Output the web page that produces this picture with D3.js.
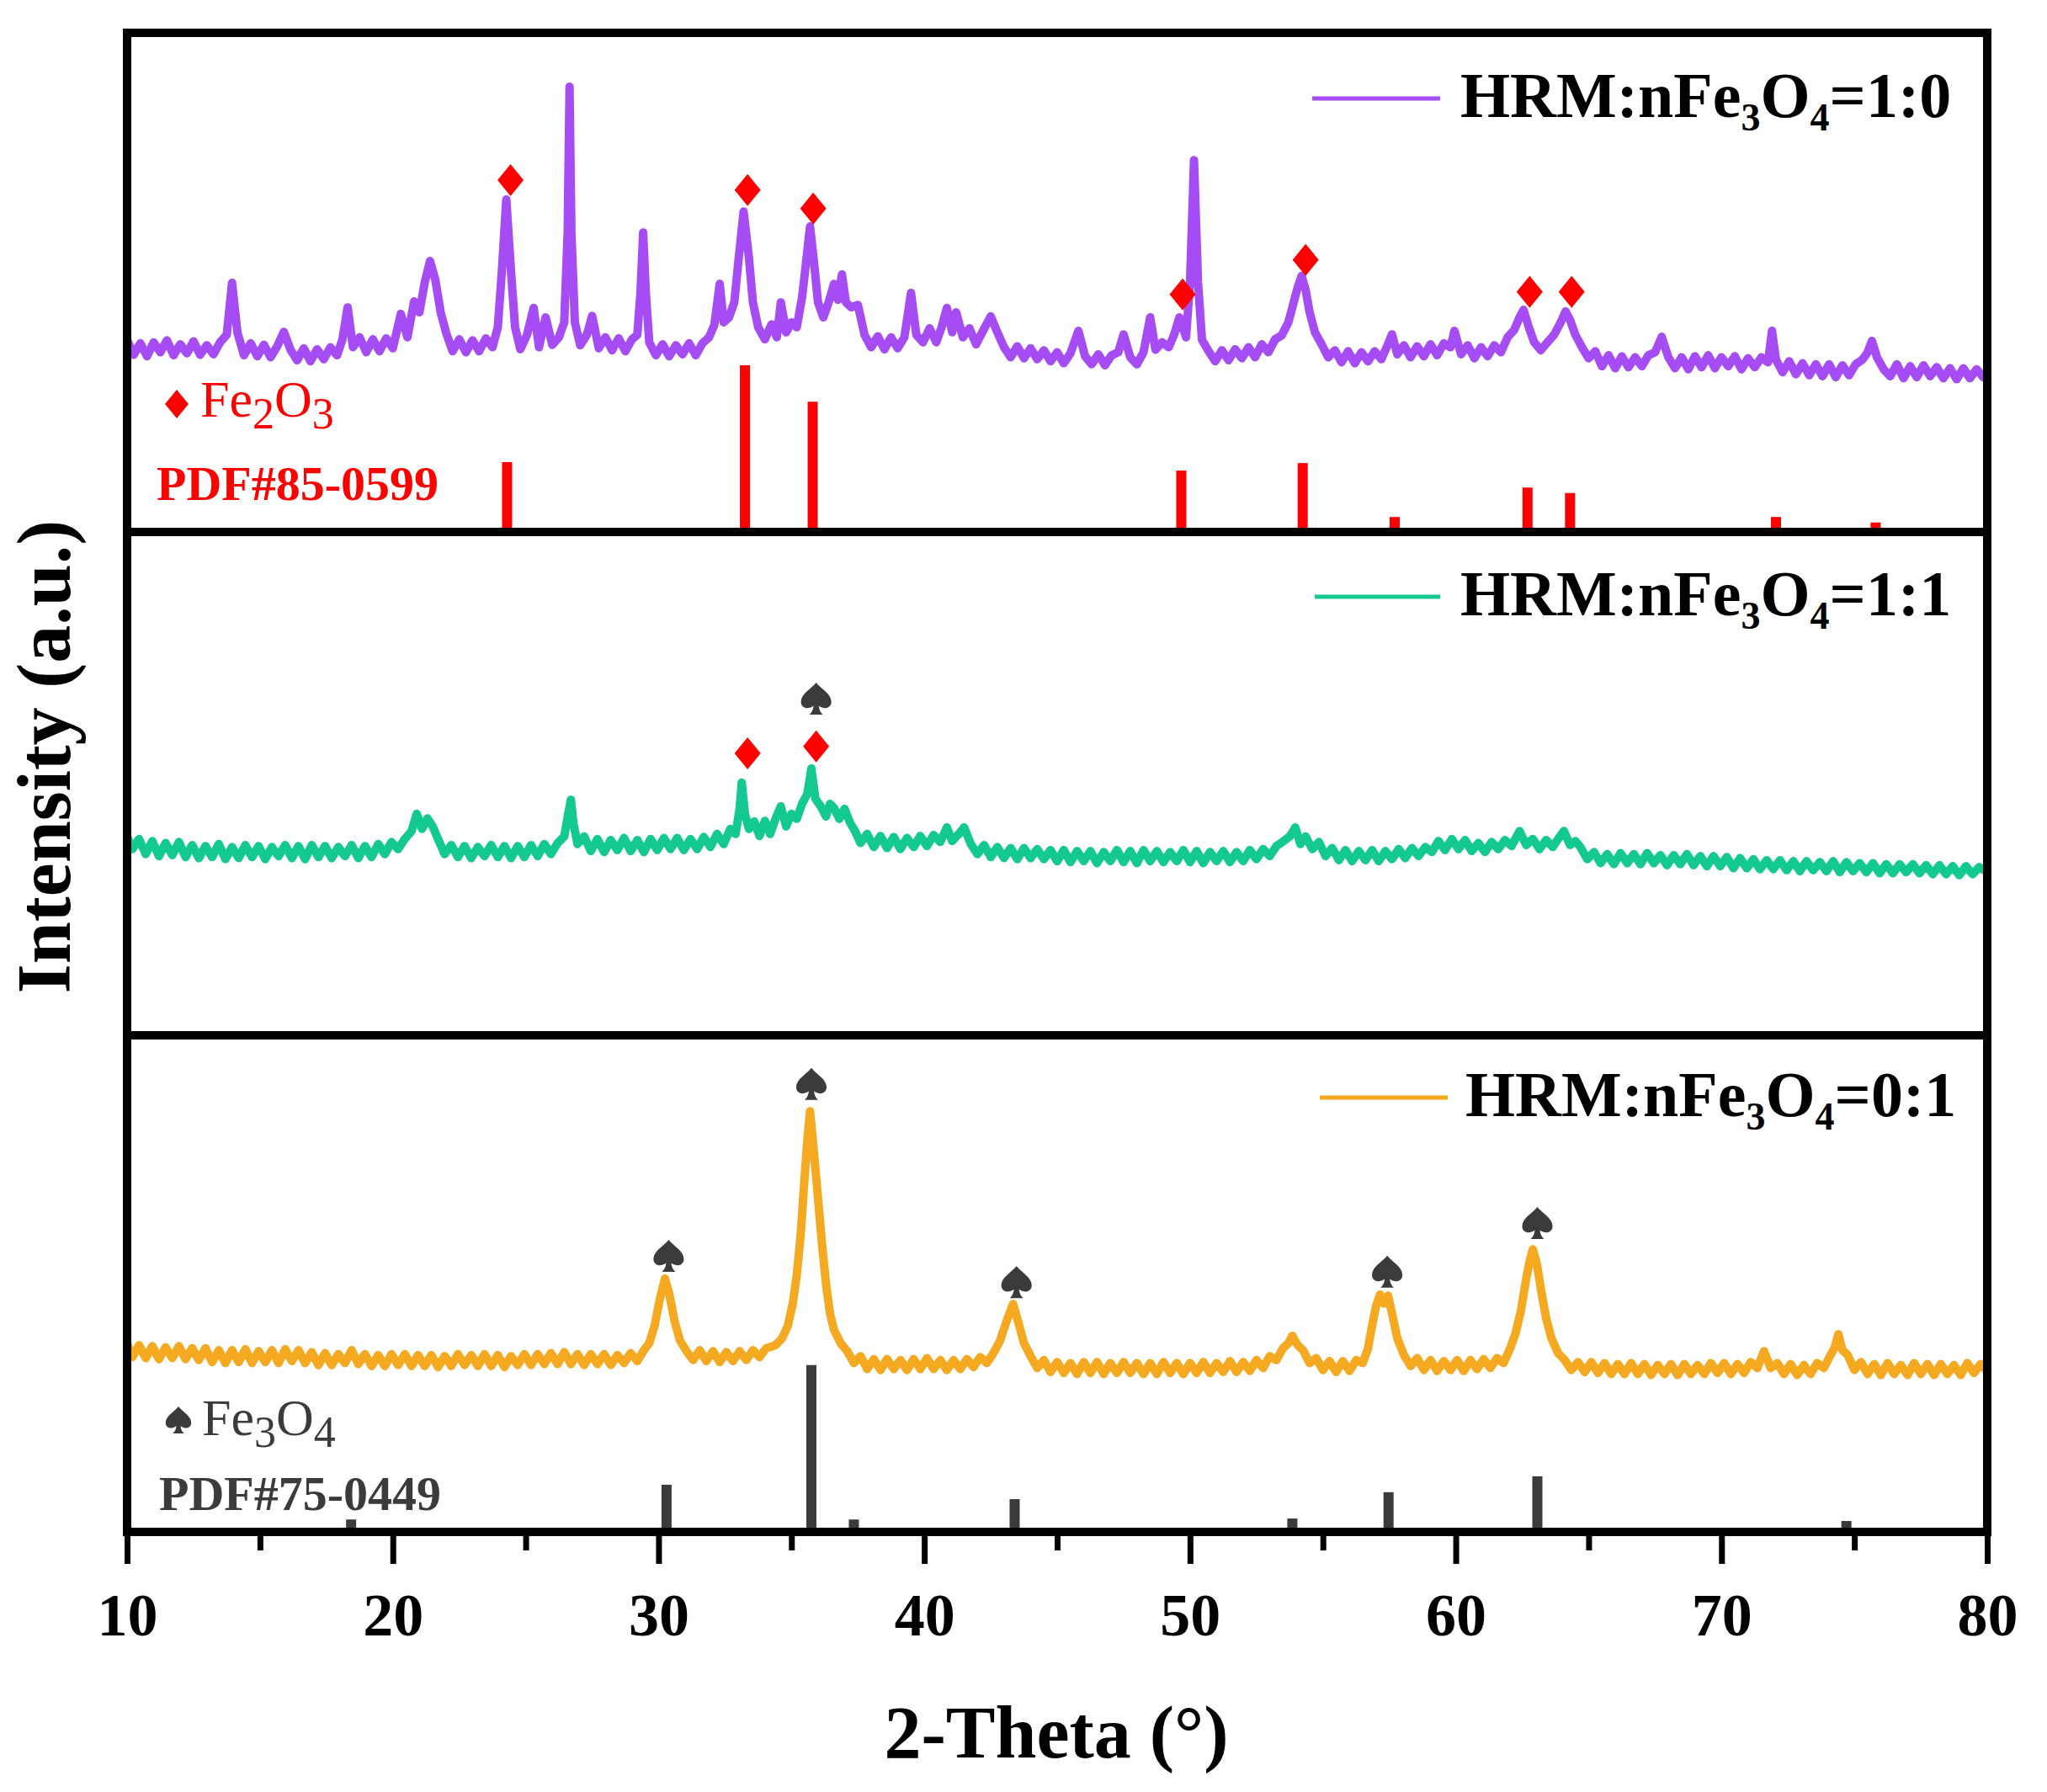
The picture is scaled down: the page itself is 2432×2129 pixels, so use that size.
<!DOCTYPE html>
<html>
<head>
<meta charset="utf-8">
<script src="https://cdn.jsdelivr.net/npm/d3@7"></script>
<style>
  body { margin: 0; background: #fff; }
  text { font-family: "Liberation Serif", "Times New Roman", serif; }
</style>
</head>
<body>
<script>
var width = 2432, height = 2129;

// ---- data (2-Theta, intensity in panel units 0..100) ----
var xTicks = [10, 20, 30, 40, 50, 60, 70, 80];
var xMinorTicks = [15, 25, 35, 45, 55, 65, 75];

// HRM:nFe3O4 = 1:0
var sample10 = [[10.0,38.5],[10.25,35.5],[10.5,37.8],[10.75,35.2],[11.0,38.0],[11.25,36.0],[11.5,38.4],[11.75,35.4],[12.0,37.6],[12.25,35.8],[12.5,38.2],[12.75,35.5],[13.0,37.4],[13.25,35.6],[13.5,38.0],[13.75,39.5],[13.95,49.9],[14.15,40.0],[14.4,35.4],[14.65,37.8],[14.9,35.2],[15.15,37.5],[15.4,35.0],[15.65,37.2],[15.9,40.1],[16.15,36.5],[16.4,34.4],[16.65,36.8],[16.9,34.2],[17.15,36.6],[17.4,34.6],[17.65,37.0],[17.9,35.4],[18.1,38.5],[18.3,45.0],[18.5,37.0],[18.75,39.0],[19.0,36.0],[19.25,38.6],[19.5,36.2],[19.75,38.8],[20.0,36.8],[20.3,43.7],[20.55,39.0],[20.8,46.2],[21.0,44.0],[21.2,50.0],[21.4,54.3],[21.6,50.5],[21.8,44.0],[22.0,40.0],[22.25,36.2],[22.5,38.6],[22.75,36.0],[23.0,38.4],[23.25,36.2],[23.5,38.8],[23.75,37.0],[23.95,41.0],[24.1,52.0],[24.27,66.6],[24.45,52.0],[24.6,41.0],[24.8,36.6],[25.05,39.5],[25.3,44.9],[25.5,37.0],[25.75,43.0],[26.0,37.5],[26.25,39.0],[26.45,42.0],[26.58,60.0],[26.65,89.2],[26.72,60.0],[26.85,42.0],[27.05,37.4],[27.3,39.5],[27.5,43.3],[27.75,36.8],[28.0,39.0],[28.25,36.4],[28.5,38.8],[28.75,36.2],[29.0,38.6],[29.2,39.5],[29.32,48.0],[29.42,60.0],[29.52,48.0],[29.65,38.0],[29.9,35.4],[30.15,37.6],[30.4,35.2],[30.65,37.4],[30.9,35.6],[31.15,37.8],[31.4,35.4],[31.65,37.8],[31.9,39.0],[32.1,41.5],[32.3,49.7],[32.45,42.0],[32.65,43.0],[32.85,46.0],[33.0,54.0],[33.2,64.2],[33.4,55.0],[33.55,46.0],[33.75,41.0],[34.0,38.6],[34.25,41.6],[34.45,39.0],[34.6,46.0],[34.8,40.0],[35.0,42.0],[35.2,41.0],[35.4,47.0],[35.55,54.0],[35.7,61.2],[35.85,54.0],[36.0,46.0],[36.2,43.0],[36.4,46.0],[36.6,49.7],[36.75,46.5],[36.9,51.6],[37.05,46.0],[37.25,45.0],[37.5,45.5],[37.75,39.5],[38.0,37.0],[38.25,39.2],[38.5,36.6],[38.75,39.0],[39.0,36.8],[39.25,39.0],[39.5,47.9],[39.7,39.5],[39.95,38.0],[40.2,40.8],[40.45,38.0],[40.65,41.0],[40.85,44.9],[41.05,40.0],[41.2,44.0],[41.45,39.0],[41.7,40.8],[41.95,37.6],[42.2,40.2],[42.5,43.2],[42.75,40.0],[43.0,37.0],[43.25,35.0],[43.5,37.2],[43.75,34.8],[44.0,36.8],[44.25,34.6],[44.5,36.4],[44.75,34.2],[45.0,36.0],[45.25,33.8],[45.5,35.8],[45.8,40.3],[46.05,35.2],[46.3,33.6],[46.55,35.6],[46.8,33.4],[47.05,35.4],[47.3,36.0],[47.5,39.6],[47.75,35.0],[48.0,33.6],[48.25,36.0],[48.5,43.0],[48.7,36.5],[48.95,38.0],[49.2,37.0],[49.4,39.5],[49.6,43.0],[49.85,39.0],[50.0,50.0],[50.15,74.5],[50.3,50.0],[50.45,38.5],[50.7,36.2],[50.95,34.2],[51.2,36.4],[51.45,34.4],[51.7,36.6],[51.95,34.8],[52.2,37.0],[52.45,35.0],[52.7,37.6],[52.95,36.0],[53.2,38.6],[53.45,39.4],[53.7,42.0],[53.9,46.0],[54.05,49.0],[54.2,51.3],[54.35,48.5],[54.5,44.0],[54.7,40.0],[54.95,37.6],[55.2,35.0],[55.45,36.4],[55.7,34.0],[55.95,36.2],[56.2,33.8],[56.45,36.0],[56.7,34.2],[56.95,36.2],[57.2,34.6],[57.4,37.0],[57.6,39.6],[57.8,35.6],[58.05,37.4],[58.3,35.0],[58.55,37.2],[58.8,35.2],[59.05,37.6],[59.3,35.4],[59.55,37.8],[59.8,37.0],[59.95,40.3],[60.2,35.6],[60.45,37.4],[60.7,34.8],[60.95,37.0],[61.2,35.2],[61.45,37.4],[61.7,36.0],[61.95,39.0],[62.2,40.5],[62.4,43.0],[62.55,44.5],[62.75,41.0],[62.95,38.0],[63.2,36.4],[63.45,38.0],[63.7,39.5],[63.95,42.0],[64.13,44.2],[64.3,42.5],[64.5,39.5],[64.75,37.0],[65.0,34.8],[65.25,36.2],[65.5,33.2],[65.75,35.4],[66.0,32.8],[66.25,35.2],[66.5,33.0],[66.75,35.0],[67.0,33.2],[67.25,35.4],[67.5,36.0],[67.75,39.1],[68.0,35.0],[68.25,32.8],[68.5,35.0],[68.75,32.6],[69.0,35.2],[69.25,33.0],[69.5,35.4],[69.75,32.8],[70.0,35.0],[70.25,33.2],[70.5,35.2],[70.75,32.6],[71.0,34.8],[71.25,33.0],[71.5,35.0],[71.75,34.0],[71.9,40.3],[72.05,34.5],[72.3,32.0],[72.55,34.2],[72.8,31.6],[73.05,33.8],[73.3,31.4],[73.55,33.6],[73.8,31.2],[74.05,33.6],[74.3,31.0],[74.55,33.4],[74.8,31.4],[75.05,33.6],[75.3,34.5],[75.5,36.0],[75.66,38.3],[75.85,35.0],[76.1,32.6],[76.35,31.2],[76.6,33.6],[76.85,30.8],[77.1,33.2],[77.35,31.0],[77.6,33.4],[77.85,31.2],[78.1,33.0],[78.35,30.8],[78.6,32.8],[78.85,30.6],[79.1,32.8],[79.35,30.8],[79.6,32.6],[79.85,31.0],[80.0,32.2]];

// HRM:nFe3O4 = 1:1
var sample11 = [[10.0,39.5],[10.2,37.0],[10.45,39.0],[10.7,36.0],[10.95,38.6],[11.2,35.6],[11.45,38.2],[11.7,35.8],[11.95,38.4],[12.2,35.4],[12.45,37.8],[12.7,35.2],[12.95,37.6],[13.2,35.4],[13.45,38.0],[13.7,35.0],[13.95,37.4],[14.2,35.2],[14.45,37.8],[14.7,35.4],[14.95,37.6],[15.2,35.0],[15.45,37.4],[15.7,35.6],[15.95,37.8],[16.2,35.2],[16.45,37.6],[16.7,35.0],[16.95,37.8],[17.2,35.4],[17.45,37.6],[17.7,35.2],[17.95,37.4],[18.2,35.6],[18.45,37.8],[18.7,35.2],[18.95,37.6],[19.2,35.4],[19.45,38.0],[19.7,36.0],[19.95,38.4],[20.2,37.0],[20.45,39.0],[20.7,40.5],[20.9,44.0],[21.1,41.0],[21.3,43.1],[21.5,41.5],[21.7,39.0],[21.95,36.0],[22.2,37.8],[22.45,35.4],[22.7,37.6],[22.95,35.2],[23.2,37.4],[23.45,35.6],[23.7,37.8],[23.95,35.4],[24.2,37.6],[24.45,35.2],[24.7,37.6],[24.95,35.4],[25.2,37.8],[25.45,35.6],[25.7,38.0],[25.95,36.0],[26.2,38.2],[26.45,39.5],[26.6,44.0],[26.7,46.8],[26.8,42.0],[26.95,38.0],[27.2,39.5],[27.45,36.6],[27.7,39.0],[27.95,36.4],[28.2,38.8],[28.45,36.8],[28.7,39.2],[28.95,36.6],[29.2,38.8],[29.45,36.4],[29.7,39.0],[29.95,36.8],[30.2,39.2],[30.45,37.0],[30.7,39.2],[30.95,36.8],[31.2,39.0],[31.45,37.0],[31.7,39.4],[31.95,37.4],[32.2,40.0],[32.45,38.0],[32.7,41.0],[32.9,40.0],[33.05,45.0],[33.13,50.2],[33.25,44.0],[33.4,41.0],[33.6,42.5],[33.8,39.6],[34.0,42.6],[34.2,40.0],[34.4,43.0],[34.6,45.5],[34.8,41.5],[35.0,44.0],[35.2,43.0],[35.4,46.0],[35.6,48.0],[35.75,53.0],[35.9,47.0],[36.1,45.5],[36.3,43.5],[36.45,46.0],[36.6,45.2],[36.8,43.0],[37.0,45.0],[37.2,42.3],[37.4,40.5],[37.6,38.2],[37.85,40.0],[38.1,37.4],[38.35,39.6],[38.6,37.2],[38.85,39.4],[39.1,37.0],[39.35,39.2],[39.6,37.4],[39.85,39.6],[40.1,37.6],[40.35,39.8],[40.6,38.4],[40.85,41.3],[41.05,38.6],[41.3,40.0],[41.5,41.3],[41.75,38.0],[42.0,36.0],[42.25,37.8],[42.5,35.4],[42.75,37.4],[43.0,35.2],[43.25,37.2],[43.5,35.0],[43.75,37.2],[44.0,35.2],[44.25,37.0],[44.5,35.0],[44.75,36.8],[45.0,34.6],[45.25,36.8],[45.5,34.4],[45.75,36.6],[46.0,34.6],[46.25,36.6],[46.5,34.2],[46.75,36.4],[47.0,34.6],[47.25,36.8],[47.5,34.4],[47.75,36.6],[48.0,34.2],[48.25,36.8],[48.5,34.6],[48.75,36.6],[49.0,34.4],[49.25,36.4],[49.5,34.6],[49.75,36.8],[50.0,34.4],[50.25,36.6],[50.5,34.2],[50.75,36.4],[51.0,34.6],[51.25,36.6],[51.5,34.4],[51.75,36.4],[52.0,34.6],[52.25,36.8],[52.5,35.0],[52.75,37.0],[53.0,35.6],[53.25,37.6],[53.5,38.5],[53.75,39.5],[53.96,41.3],[54.15,38.0],[54.35,39.5],[54.6,37.0],[54.85,38.4],[55.1,35.6],[55.35,37.2],[55.6,34.8],[55.85,36.8],[56.1,34.6],[56.35,36.6],[56.6,34.8],[56.85,36.8],[57.1,34.6],[57.35,36.6],[57.6,35.0],[57.85,37.0],[58.1,35.2],[58.35,37.2],[58.6,35.6],[58.85,37.4],[59.1,36.4],[59.35,38.6],[59.6,36.8],[59.85,39.0],[60.1,37.0],[60.35,38.8],[60.6,36.6],[60.85,38.2],[61.1,36.4],[61.35,38.4],[61.6,37.0],[61.85,38.8],[62.1,37.6],[62.4,40.6],[62.65,37.8],[62.9,39.0],[63.15,37.0],[63.4,38.8],[63.65,37.4],[63.85,39.0],[64.07,40.6],[64.3,37.8],[64.5,38.6],[64.7,37.3],[64.95,35.0],[65.2,36.4],[65.45,34.2],[65.7,36.0],[65.95,34.0],[66.2,36.2],[66.45,34.2],[66.7,36.0],[66.95,34.0],[67.2,36.2],[67.45,34.2],[67.7,35.8],[67.95,33.8],[68.2,35.8],[68.45,34.0],[68.7,36.0],[68.95,33.8],[69.2,35.6],[69.45,33.6],[69.7,35.6],[69.95,33.6],[70.2,35.4],[70.45,33.2],[70.7,35.2],[70.95,33.2],[71.2,35.0],[71.45,33.0],[71.7,34.8],[71.95,33.0],[72.2,34.8],[72.45,32.8],[72.7,34.6],[72.95,32.6],[73.2,34.6],[73.45,32.8],[73.7,34.4],[73.95,32.6],[74.2,34.6],[74.45,32.4],[74.7,34.4],[74.95,32.6],[75.2,34.2],[75.45,32.4],[75.7,34.2],[75.95,32.2],[76.2,34.0],[76.45,32.2],[76.7,34.0],[76.95,32.4],[77.2,34.0],[77.45,32.2],[77.7,33.8],[77.95,32.0],[78.2,33.8],[78.45,32.0],[78.7,33.6],[78.95,31.8],[79.2,33.6],[79.45,32.0],[79.7,33.4],[79.95,32.6]];

// HRM:nFe3O4 = 0:1
var sample01 = [[10.0,38.0],[10.2,35.2],[10.45,37.6],[10.7,35.0],[10.95,37.4],[11.2,34.8],[11.45,37.2],[11.7,35.0],[11.95,37.4],[12.2,34.8],[12.45,37.0],[12.7,34.6],[12.95,37.0],[13.2,34.2],[13.45,36.6],[13.7,34.0],[13.95,36.6],[14.2,34.2],[14.45,36.8],[14.7,34.0],[14.95,36.4],[15.2,34.2],[15.45,36.6],[15.7,34.0],[15.95,36.8],[16.2,34.4],[16.45,36.6],[16.7,34.0],[16.95,36.2],[17.2,33.6],[17.45,36.0],[17.7,33.6],[17.95,35.8],[18.2,34.0],[18.45,36.6],[18.7,33.8],[18.95,35.8],[19.2,33.4],[19.45,35.6],[19.7,33.4],[19.95,35.8],[20.2,33.6],[20.45,35.8],[20.7,33.4],[20.95,35.6],[21.2,33.4],[21.45,35.6],[21.7,33.2],[21.95,35.4],[22.2,33.4],[22.45,35.8],[22.7,33.6],[22.95,35.6],[23.2,33.4],[23.45,35.8],[23.7,33.4],[23.95,35.6],[24.2,33.2],[24.45,35.4],[24.7,33.6],[24.95,35.8],[25.2,33.6],[25.45,35.8],[25.7,33.8],[25.95,36.0],[26.2,33.8],[26.45,36.2],[26.7,33.8],[26.95,35.8],[27.2,33.6],[27.45,35.8],[27.7,33.8],[27.95,35.8],[28.2,33.6],[28.45,35.6],[28.7,34.0],[28.95,36.0],[29.2,34.4],[29.45,36.6],[29.65,38.0],[29.85,41.5],[30.05,47.0],[30.24,51.0],[30.4,48.0],[30.6,42.5],[30.8,38.6],[31.05,36.4],[31.3,34.6],[31.55,36.6],[31.8,34.4],[32.05,36.4],[32.3,34.2],[32.55,36.2],[32.8,34.4],[33.05,36.4],[33.3,34.6],[33.55,36.6],[33.8,35.2],[34.05,37.0],[34.4,37.6],[34.65,39.0],[34.86,41.4],[35.05,46.0],[35.2,51.7],[35.35,60.0],[35.48,70.3],[35.6,79.0],[35.7,84.7],[35.82,78.0],[35.97,69.0],[36.15,58.0],[36.3,50.0],[36.45,44.0],[36.6,40.7],[36.85,38.0],[37.1,36.4],[37.35,34.0],[37.6,35.4],[37.85,32.8],[38.1,34.8],[38.35,32.6],[38.6,34.8],[38.85,32.8],[39.1,34.6],[39.35,32.6],[39.6,34.8],[39.85,32.8],[40.1,35.0],[40.35,32.8],[40.6,34.6],[40.85,32.6],[41.1,34.6],[41.35,32.8],[41.6,34.8],[41.85,33.2],[42.1,35.2],[42.35,34.0],[42.6,36.0],[42.85,38.5],[43.1,42.5],[43.34,45.9],[43.55,42.0],[43.75,38.0],[44.0,35.4],[44.25,33.0],[44.5,34.6],[44.75,32.2],[45.0,34.2],[45.25,32.0],[45.5,34.0],[45.75,31.8],[46.0,34.2],[46.25,32.0],[46.5,34.2],[46.75,31.8],[47.0,34.0],[47.25,32.0],[47.5,34.2],[47.75,32.0],[48.0,34.0],[48.25,31.8],[48.5,34.0],[48.75,31.8],[49.0,34.2],[49.25,32.0],[49.5,34.0],[49.75,31.8],[50.0,34.0],[50.25,32.0],[50.5,34.2],[50.75,32.0],[51.0,34.0],[51.25,32.2],[51.5,34.4],[51.75,32.2],[52.0,34.2],[52.25,32.4],[52.5,34.6],[52.75,33.0],[53.0,35.4],[53.25,34.6],[53.5,37.0],[53.7,38.0],[53.85,39.5],[54.05,37.6],[54.25,36.6],[54.5,34.0],[54.75,35.0],[55.0,32.6],[55.25,34.4],[55.5,32.2],[55.75,34.4],[56.0,32.4],[56.25,34.6],[56.5,34.0],[56.7,37.0],[56.85,41.5],[57.0,45.5],[57.15,47.8],[57.3,46.0],[57.45,47.6],[57.6,44.0],[57.8,39.0],[58.05,35.6],[58.3,33.4],[58.55,35.0],[58.8,32.6],[59.05,34.6],[59.3,32.4],[59.55,34.4],[59.8,32.6],[60.05,34.6],[60.3,32.4],[60.55,34.6],[60.8,32.8],[61.05,34.8],[61.3,33.0],[61.55,35.0],[61.8,34.0],[62.05,37.0],[62.25,40.0],[62.45,44.5],[62.65,51.0],[62.8,55.0],[62.9,56.9],[63.05,54.0],[63.2,49.0],[63.4,43.0],[63.6,39.0],[63.85,36.0],[64.1,34.6],[64.35,32.6],[64.6,34.2],[64.85,32.2],[65.1,34.2],[65.35,32.0],[65.6,34.0],[65.85,31.8],[66.1,33.8],[66.35,31.8],[66.6,34.0],[66.85,31.8],[67.1,33.8],[67.35,31.6],[67.6,33.6],[67.85,31.8],[68.1,33.8],[68.35,31.6],[68.6,33.8],[68.85,31.8],[69.1,33.6],[69.35,31.8],[69.6,34.0],[69.85,32.0],[70.1,34.0],[70.35,31.8],[70.6,33.8],[70.85,32.0],[71.1,34.2],[71.35,33.0],[71.6,36.4],[71.85,33.0],[72.1,34.0],[72.35,31.8],[72.6,33.8],[72.85,31.6],[73.1,33.6],[73.35,31.8],[73.6,34.0],[73.85,33.0],[74.1,35.6],[74.25,37.0],[74.4,39.8],[74.55,36.6],[74.75,35.6],[75.0,32.6],[75.25,34.2],[75.5,31.8],[75.75,33.8],[76.0,31.6],[76.25,34.0],[76.5,31.8],[76.75,33.6],[77.0,31.6],[77.25,34.0],[77.5,31.8],[77.75,33.8],[78.0,31.6],[78.25,33.8],[78.5,31.8],[78.75,33.6],[79.0,31.6],[79.25,34.0],[79.5,32.0],[79.75,33.8],[80.0,32.4]];

// reference patterns (stick positions / relative heights)
var fe2o3Pos = [24.3, 33.25, 35.8, 49.67, 54.24, 57.7, 62.7, 64.3, 72.05, 75.8];
var fe2o3Int = [14.0, 33.4, 26.1, 12.3, 13.8, 3.0, 8.9, 7.8, 3.0, 1.9];
var fe3o4Pos = [18.43, 30.3, 35.75, 37.35, 43.4, 47.2, 53.85, 57.47, 63.07, 66.5, 71.2, 74.7, 75.6];
var fe3o4Int = [2.5, 9.5, 33.6, 2.5, 6.6, 0.5, 2.7, 8.0, 11.2, 0.5, 0.5, 2.2, 0.6];

// peak markers
var diamondPanel1 = [[24.43,70.5],[33.35,68.5],[35.82,64.8],[49.72,47.6],[54.35,54.5],[62.78,48.1],[64.36,48.1]];
var diamondPanel2 = [[33.35,56.0],[35.93,57.4]];
var spadePanel2 = [[35.93,66.9]];
var spadePanel3 = [[30.38,55.6],[35.75,90.2],[43.47,50.3],[57.42,52.4],[63.07,62.2]];

var sampleRatios = ["1:0", "1:1", "0:1"];
var seriesColors = ["#a64cf4", "#14c991", "#f4a920"];
var red = "#ff0000", grey = "#3b3b3b";

// ---- layout ----
var x = d3.scaleLinear().domain([10, 80]).range([151, 2361]);
var panels = [
  {top: 39, bottom: 632, data: sample10},
  {top: 632, bottom: 1230, data: sample11},
  {top: 1230, bottom: 1820, data: sample01}
];
panels.forEach(function(p) {
  p.y = d3.scaleLinear().domain([0, 100]).range([p.bottom, p.top]);
});

var svg = d3.select("body").append("svg")
    .attr("width", width)
    .attr("height", height);

svg.append("rect").attr("width", width).attr("height", height).attr("fill", "#fff");

svg.append("defs").append("clipPath").attr("id", "plotclip")
  .append("rect")
    .attr("x", 151).attr("y", 39)
    .attr("width", 2361 - 151).attr("height", 1820 - 39);

var plot = svg.append("g").attr("clip-path", "url(#plotclip)");

// custom marker shapes
function diamondPath(cx, cy, hw, hh) {
  return "M" + cx + "," + (cy - hh) + "L" + (cx + hw) + "," + cy + "L" + cx + "," + (cy + hh) + "L" + (cx - hw) + "," + cy + "Z";
}
function spadePath(cx, cy, s) {
  var p = d3.path();
  function P(a, b) { return [cx + a * s, cy + b * s]; }
  var a = P(0, -1); p.moveTo(a[0], a[1]);
  var c;
  c = [P(0.3, -0.62), P(0.95, -0.3), P(0.95, 0.2)];  p.bezierCurveTo(c[0][0], c[0][1], c[1][0], c[1][1], c[2][0], c[2][1]);
  c = [P(0.95, 0.6), P(0.5, 0.72), P(0.16, 0.45)];   p.bezierCurveTo(c[0][0], c[0][1], c[1][0], c[1][1], c[2][0], c[2][1]);
  c = [P(0.18, 0.72), P(0.3, 0.9), P(0.42, 1)];      p.bezierCurveTo(c[0][0], c[0][1], c[1][0], c[1][1], c[2][0], c[2][1]);
  a = P(-0.42, 1); p.lineTo(a[0], a[1]);
  c = [P(-0.3, 0.9), P(-0.18, 0.72), P(-0.16, 0.45)]; p.bezierCurveTo(c[0][0], c[0][1], c[1][0], c[1][1], c[2][0], c[2][1]);
  c = [P(-0.5, 0.72), P(-0.95, 0.6), P(-0.95, 0.2)];  p.bezierCurveTo(c[0][0], c[0][1], c[1][0], c[1][1], c[2][0], c[2][1]);
  c = [P(-0.95, -0.3), P(-0.3, -0.62), P(0, -1)];     p.bezierCurveTo(c[0][0], c[0][1], c[1][0], c[1][1], c[2][0], c[2][1]);
  p.closePath();
  return p.toString();
}

// reference sticks
var sticks1 = fe2o3Pos.map(function(d, i) { return {pos: d, val: fe2o3Int[i]}; });
var sticks3 = fe3o4Pos.map(function(d, i) { return {pos: d, val: fe3o4Int[i]}; });

plot.selectAll(".stick1")
    .data(sticks1)
    .enter().append("rect")
    .attr("class", "stick1")
    .attr("x", function(d) { return x(d.pos) - 6; })
    .attr("width", 12)
    .attr("y", function(d) { return panels[0].y(d.val); })
    .attr("height", function(d) { return panels[0].y(0) - panels[0].y(d.val); })
    .attr("fill", red);

plot.selectAll(".stick3")
    .data(sticks3)
    .enter().append("rect")
    .attr("class", "stick3")
    .attr("x", function(d) { return x(d.pos) - 6; })
    .attr("width", 12)
    .attr("y", function(d) { return panels[2].y(d.val); })
    .attr("height", function(d) { return panels[2].y(0) - panels[2].y(d.val); })
    .attr("fill", grey);

// XRD curves (thick stroke stands in for the dense counting noise)
panels.forEach(function(p, i) {
  var line = d3.line()
      .x(function(d) { return x(d[0]); })
      .y(function(d) { return p.y(d[1]); });
  plot.append("path")
      .datum(p.data)
      .attr("d", line)
      .attr("fill", "none")
      .attr("stroke", seriesColors[i])
      .attr("stroke-width", 10)
      .attr("stroke-linejoin", "round");
});

// peak markers
svg.selectAll(".dia1")
    .data(diamondPanel1)
    .enter().append("path")
    .attr("d", function(d) { return diamondPath(x(d[0]), panels[0].y(d[1]), 15.5, 19); })
    .attr("fill", red);
svg.selectAll(".dia2")
    .data(diamondPanel2)
    .enter().append("path")
    .attr("d", function(d) { return diamondPath(x(d[0]), panels[1].y(d[1]), 15.5, 19); })
    .attr("fill", red);
svg.selectAll(".spade2")
    .data(spadePanel2)
    .enter().append("path")
    .attr("d", function(d) { return spadePath(x(d[0]), panels[1].y(d[1]), 19); })
    .attr("fill", grey);
svg.selectAll(".spade3")
    .data(spadePanel3)
    .enter().append("path")
    .attr("d", function(d) { return spadePath(x(d[0]), panels[2].y(d[1]), 19); })
    .attr("fill", grey);

// legends
var legendPos = [
  {lx1: 1559, lx2: 1711, ly: 117, tx: 1735, ty: 139},
  {lx1: 1562, lx2: 1711, ly: 709, tx: 1735, ty: 731},
  {lx1: 1568, lx2: 1720, ly: 1304, tx: 1741, ty: 1326}
];
legendPos.forEach(function(l, i) {
  svg.append("line")
      .attr("x1", l.lx1).attr("x2", l.lx2)
      .attr("y1", l.ly).attr("y2", l.ly)
      .attr("stroke", seriesColors[i])
      .attr("stroke-width", 5);
  var t = svg.append("text")
      .attr("x", l.tx).attr("y", l.ty)
      .attr("font-size", 76)
      .attr("font-weight", "bold")
      .attr("fill", "#000");
  t.append("tspan").text("HRM:nFe");
  t.append("tspan").attr("font-size", 46).attr("dy", 16).text("3");
  t.append("tspan").attr("dy", -16).text("O");
  t.append("tspan").attr("font-size", 46).attr("dy", 16).text("4");
  t.append("tspan").attr("dy", -16).text("=" + sampleRatios[i]);
});

// phase labels
function phaseLabel(symbol, color, sx, sy, tx, ty, s1, s2, pdf, px, py) {
  if (symbol === "diamond") {
    svg.append("path").attr("d", diamondPath(sx, sy, 14, 17)).attr("fill", color);
  } else {
    svg.append("path").attr("d", spadePath(sx, sy, 16)).attr("fill", color);
  }
  var t = svg.append("text").attr("x", tx).attr("y", ty)
      .attr("font-size", 62).attr("fill", color);
  t.append("tspan").text("Fe");
  t.append("tspan").attr("font-size", 52).attr("dy", 14).text(s1);
  t.append("tspan").attr("dy", -14).text("O");
  t.append("tspan").attr("font-size", 52).attr("dy", 14).text(s2);
  svg.append("text").attr("x", px).attr("y", py)
      .attr("font-size", 58).attr("font-weight", "bold")
      .attr("fill", color).text(pdf);
}
phaseLabel("diamond", red, 210, 480, 238, 495, "2", "3", "PDF#85-0599", 186, 594);
phaseLabel("spade", grey, 212, 1687, 240, 1705, "3", "4", "PDF#75-0449", 189, 1794);

// frame and separators
svg.append("rect")
    .attr("x", 151).attr("y", 39)
    .attr("width", 2361 - 151).attr("height", 1820 - 39)
    .attr("fill", "none")
    .attr("stroke", "#000")
    .attr("stroke-width", 10);
[632, 1230].forEach(function(yy) {
  svg.append("line")
      .attr("x1", 151).attr("x2", 2361)
      .attr("y1", yy).attr("y2", yy)
      .attr("stroke", "#000").attr("stroke-width", 10);
});

// x axis
var xAxis = d3.axisBottom(x)
    .tickValues(xTicks)
    .tickFormat(d3.format("d"))
    .tickSize(38)
    .tickPadding(34);
var gx = svg.append("g")
    .attr("transform", "translate(0,1820)")
    .call(xAxis);
gx.select(".domain").remove();
gx.selectAll(".tick line").attr("stroke", "#000").attr("stroke-width", 7);
gx.selectAll(".tick text")
    .attr("font-family", "Liberation Serif, Times New Roman, serif")
    .attr("font-size", 72)
    .attr("font-weight", "bold")
    .attr("fill", "#000");

var gxm = svg.append("g")
    .attr("transform", "translate(0,1820)")
    .call(d3.axisBottom(x).tickValues(xMinorTicks).tickSize(22).tickFormat(""));
gxm.select(".domain").remove();
gxm.selectAll(".tick line").attr("stroke", "#000").attr("stroke-width", 7);

// axis titles
svg.append("text")
    .attr("x", 1255).attr("y", 2088)
    .attr("text-anchor", "middle")
    .attr("font-size", 88)
    .attr("font-weight", "bold")
    .text("2-Theta (\u00B0)");

svg.append("text")
    .attr("transform", "translate(83,899) rotate(-90)")
    .attr("text-anchor", "middle")
    .attr("font-size", 90)
    .attr("font-weight", "bold")
    .text("Intensity (a.u.)");
</script>
</body>
</html>
